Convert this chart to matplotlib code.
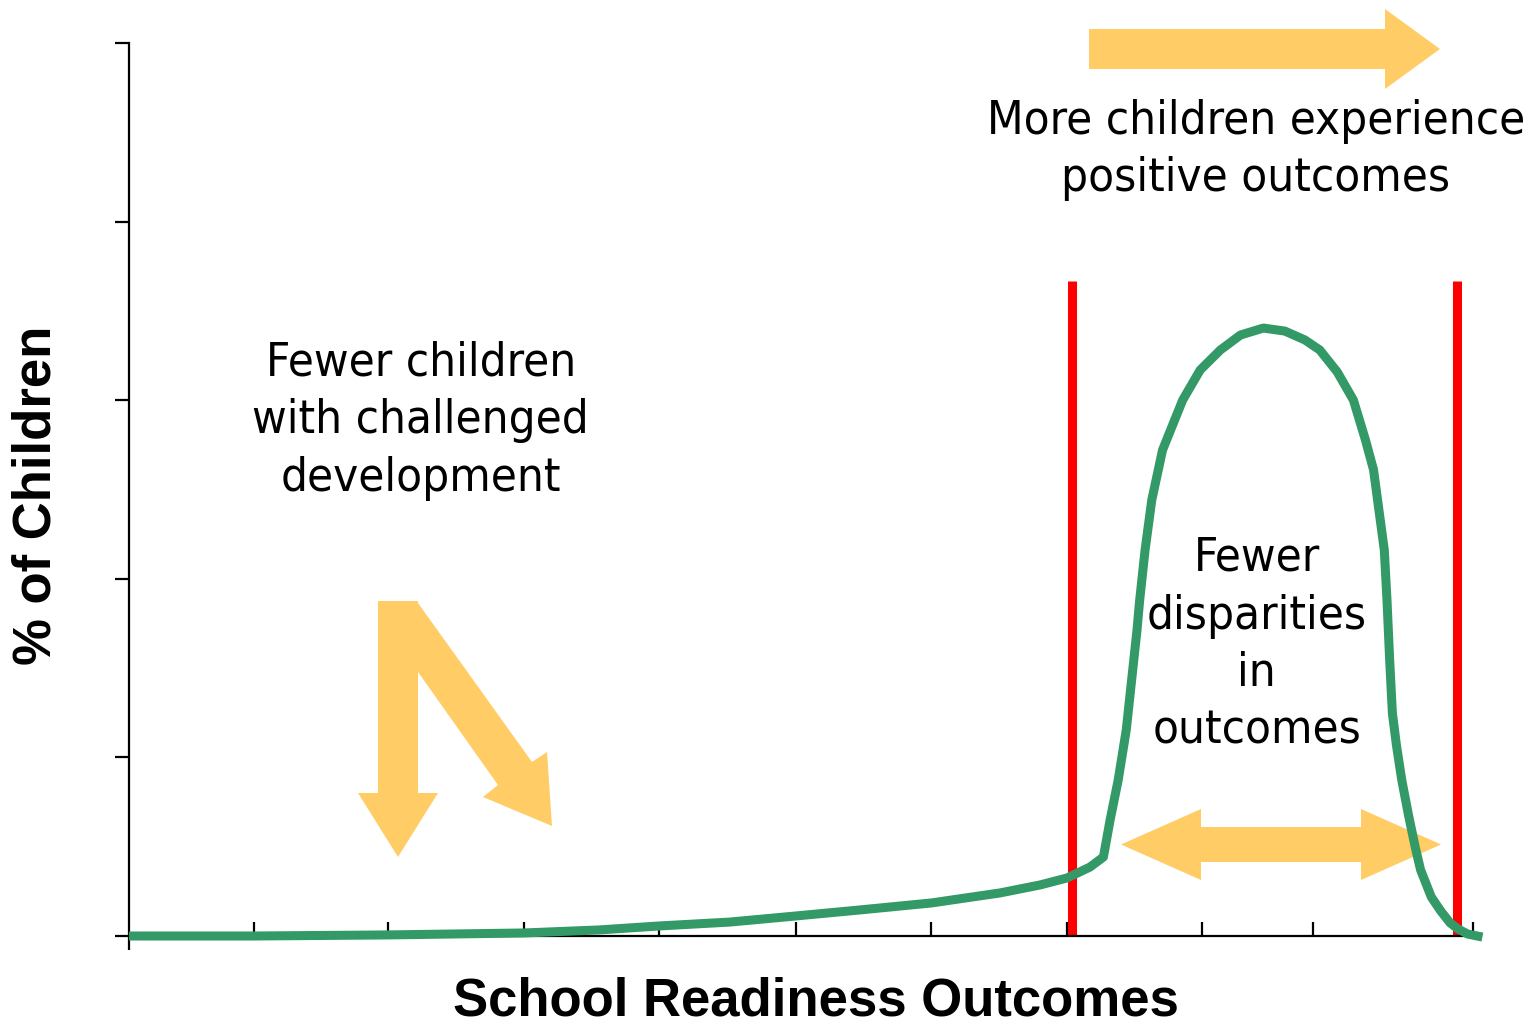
import matplotlib.pyplot as plt
from matplotlib.patches import FancyArrow, Polygon

# green distribution curve (x: 0..10, y: 0..5)
curve_x = [0.0, 0.93, 1.93, 2.94, 3.50, 3.94, 4.47, 4.96, 5.44, 5.97,
           6.48, 6.78, 6.98, 7.15, 7.25,
           7.30, 7.36, 7.42, 7.46, 7.50, 7.52, 7.56, 7.61, 7.69, 7.84,
           7.97, 8.12, 8.27, 8.44, 8.60, 8.75, 8.86, 8.99,
           9.11, 9.20, 9.26, 9.29, 9.34, 9.36, 9.38, 9.40, 9.43, 9.47,
           9.52, 9.57, 9.61, 9.69, 9.76, 9.83, 9.89, 9.96, 10.07]
curve_y = [0.0, 0.0, 0.006, 0.017, 0.034, 0.056, 0.078, 0.112, 0.146, 0.185,
           0.241, 0.286, 0.325, 0.386, 0.442,
           0.65, 0.873, 1.153, 1.433, 1.713, 1.881, 2.161, 2.441, 2.721, 3.001,
           3.169, 3.281, 3.365, 3.404, 3.387, 3.337, 3.281, 3.158,
           3.001, 2.777, 2.61, 2.441, 2.161, 1.881, 1.545, 1.249, 1.07, 0.873,
           0.677, 0.498, 0.37, 0.218, 0.14, 0.073, 0.039, 0.011, -0.006]

# red range markers
range_x = [7.02, 9.88]
range_top = 3.667

x_ticks = [0.93, 1.93, 2.94, 3.94, 4.96, 5.97, 6.98, 7.98, 8.81, 10.0]
y_ticks = [0, 1, 2, 3, 4, 5]

GREEN = '#339966'
ORANGE = '#FFCC66'
bold = ['Liberation Sans', 'DejaVu Sans']
note = dict(family='DejaVu Sans', fontstretch='condensed', fontsize=34,
            ha='center', va='center', linespacing=1.36)

W, H = 1525, 1026
fig = plt.figure(figsize=(W / 100, H / 100), dpi=100)

# overlay in pixel units for the big block arrows
over = fig.add_axes([0, 0, 1, 1], zorder=0)
over.set_xlim(0, W)
over.set_ylim(H, 0)
over.axis('off')

ax = fig.add_axes([129 / W, (H - 936) / H, (1473 - 129) / W, (936 - 43) / H], zorder=1)
ax.patch.set_alpha(0)

# arrows
over.add_patch(FancyArrow(1089, 49, 351, 0, width=40, head_width=80, head_length=55,
                          length_includes_head=True, color=ORANGE, lw=0))
over.add_patch(FancyArrow(398, 601, 0, 256, width=40, head_width=80, head_length=64,
                          length_includes_head=True, color=ORANGE, lw=0))
over.add_patch(Polygon([(418, 603), (532, 762), (547, 752), (552, 826),
                        (483, 797), (498, 785), (418, 672)], closed=True, color=ORANGE, lw=0))
over.add_patch(Polygon([(1121, 844.5), (1201, 809), (1201, 827), (1361, 827), (1361, 809),
                        (1441, 844.5), (1361, 880), (1361, 862), (1201, 862), (1201, 880)],
                       closed=True, color=ORANGE, lw=0))

# curve and range lines
for rx in range_x:
    ax.plot([rx, rx], [0, range_top], color='#FF0000', lw=6.5, solid_capstyle='butt', zorder=2)
ax.plot(curve_x, curve_y, color=GREEN, lw=6.5, clip_on=False, zorder=3,
        solid_joinstyle='round', solid_capstyle='butt')

ax.set_xlim(0, 10)
ax.set_ylim(0, 5)
for s in ['top', 'right']:
    ax.spines[s].set_visible(False)
for s in ['left', 'bottom']:
    ax.spines[s].set_linewidth(1.6)
ax.set_xticks(x_ticks)
ax.set_xticks([0], minor=True)
ax.set_yticks(y_ticks)
ax.tick_params(axis='x', which='major', direction='in', length=10, width=1.6, labelbottom=False)
ax.tick_params(axis='x', which='minor', direction='out', length=10, width=1.6, labelbottom=False)
ax.tick_params(axis='y', direction='out', length=10, width=1.6, labelleft=False)

ax.set_xlabel('School Readiness Outcomes', family=bold, fontsize=38, fontweight='bold')
ax.xaxis.set_label_coords((816 - 129) / 1344, -(1001 - 936) / 893, transform=ax.transAxes)
ax.xaxis.label.set_va('center')
ax.set_ylabel('% of Children', family=bold, fontsize=38, fontweight='bold')
ax.yaxis.set_label_coords(-(129 - 37) / 1344, (936 - 495) / 893, transform=ax.transAxes)
ax.yaxis.label.set_va('center')

ax.text(8.385, 4.40, 'More children experience\npositive outcomes', clip_on=False, **note)
ax.text(2.17, 2.884, 'Fewer children\nwith challenged\ndevelopment', **note)
ax.text(8.39, 1.63, 'Fewer\ndisparities\nin\noutcomes', zorder=4, **note)

fig.savefig('out.png', dpi=100)
